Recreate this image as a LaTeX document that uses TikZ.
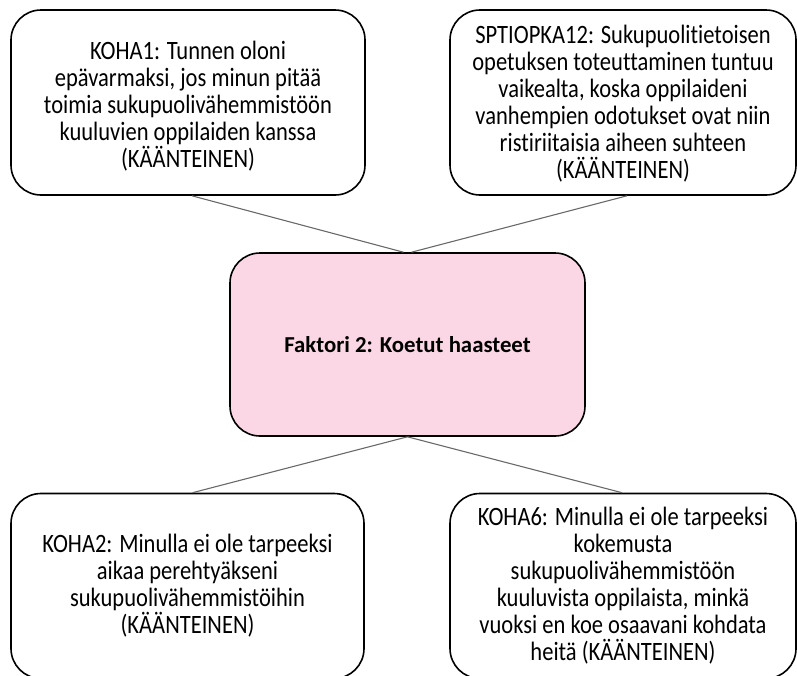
\documentclass[tikz,border=0pt]{standalone}
\usepackage{fontspec}
\setmainfont{Carlito}[Ligatures=NoCommon]
\newfontfamily\itemfont{Carlito}[FakeStretch=0.85, Ligatures=NoCommon]
\usetikzlibrary{calc}
\definecolor{factorpink}{RGB}{251,214,228}
\definecolor{linkgray}{RGB}{105,105,105}
\tikzset{
  boxframe/.style={draw=black, line width=1.6pt, rounded corners=30pt, inner sep=0pt},
  itembox/.style={boxframe, fill=white},
  itemtext/.style={align=center, inner sep=0pt,
    font=\itemfont\fontsize{26.5}{27}\selectfont},
  factorbox/.style={boxframe, fill=factorpink, align=center,
    font=\bfseries\fontsize{22.8}{27}\selectfont},
  link/.style={draw=linkgray, line width=1.1pt}
}
\begin{document}
\begin{tikzpicture}[x=1pt,y=-1pt]
\useasboundingbox (0,0) rectangle (797,675);
\clip (0,0) rectangle (797,675);

% frames of the four statement boxes and the factor box
\node[itembox, minimum width=354pt, minimum height=185pt] (tl) at (188,102.5) {};
\node[itembox, minimum width=346pt, minimum height=185pt] (tr) at (623,102.5) {};
\node[factorbox, minimum width=355pt, minimum height=183pt] (c) at (407.5,344.5)
  {Faktori 2: Koetut haasteet};
\node[itembox, minimum width=353pt, minimum height=185pt] (bl) at (187.5,586) {};
\node[itembox, minimum width=346pt, minimum height=185pt] (br) at (623,586) {};

% statement texts
\node[itemtext] (tltext) at ($(tl.center)+(0,4)$)
  {KOHA1: Tunnen oloni\\epävarmaksi, jos minun pitää\\toimia sukupuolivähemmistöön\\kuuluvien oppilaiden kanssa\\(KÄÄNTEINEN)};
\node[itemtext] (trtext) at ($(tr.center)+(0,1)$)
  {SPTIOPKA12: Sukupuolitietoisen\\opetuksen toteuttaminen tuntuu\\vaikealta, koska oppilaideni\\vanhempien odotukset ovat niin\\ristiriitaisia aiheen suhteen\\(KÄÄNTEINEN)};
\node[itemtext] (bltext) at (bl.center)
  {KOHA2: Minulla ei ole tarpeeksi\\aikaa perehtyäkseni\\sukupuolivähemmistöihin\\(KÄÄNTEINEN)};
\node[itemtext] (brtext) at (br.center)
  {KOHA6: Minulla ei ole tarpeeksi\\kokemusta\\sukupuolivähemmistöön\\kuuluvista oppilaista, minkä\\vuoksi en koe osaavani kohdata\\heitä (KÄÄNTEINEN)};

% connectors to the factor box
\draw[link] ($(tl.south)+(4,0)$) -- ($(c.north)+(-4,0)$);
\draw[link] ($(tr.south)+(4,0)$) -- ($(c.north)+(4,0)$);
\draw[link] (c.south) -- ($(bl.north)+(5,0)$);
\draw[link] (c.south) -- ($(br.north)+(-1,0)$);
\end{tikzpicture}
\end{document}
